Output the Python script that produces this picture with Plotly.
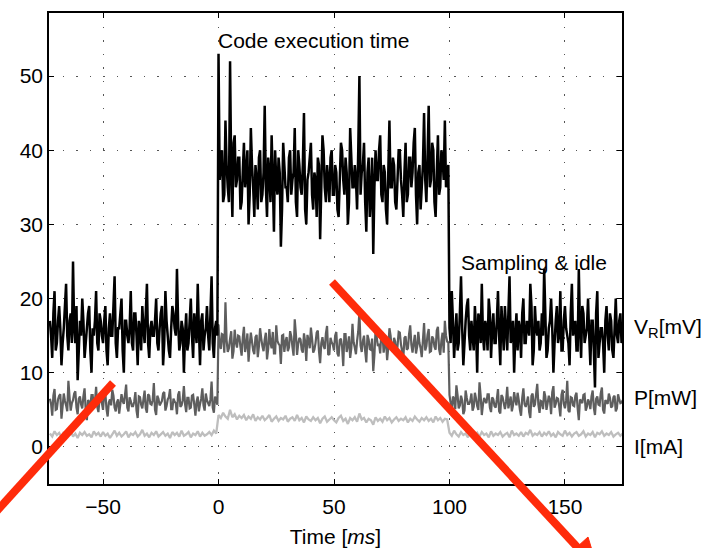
import plotly.graph_objects as go

# Sampling grids (ms)
TIME_MS = list(range(-73, 176))                    # whole-ms samples
TIME_HALF_MS = [t + 0.5 for t in range(-73, 175)]  # half-ms samples

# V_R [mV] at whole ms
V_IDLE_1 = [17, 12, 21, 14, 19, 11, 16, 22, 13, 18,
            25, 14, 9, 17, 20, 12, 16, 19, 10, 15,
            21, 13, 17, 14, 19, 11, 18, 15, 23, 12,
            16, 20, 10, 17, 14, 21, 13, 18, 11, 16,
            19, 14, 22, 12, 17, 15, 20, 13, 18, 11,
            21, 15, 12, 19, 16, 24, 13, 17, 10, 18,
            14, 20, 12, 16, 22, 11, 18, 15, 19, 13,
            23, 12, 17]
V_EXEC = [53, 38, 33, 44, 35, 52, 31, 42, 36, 39,
          33, 41, 37, 30, 43, 35, 38, 32, 40, 34,
          46, 31, 37, 42, 29, 36, 39, 27, 41, 35,
          33, 40, 36, 43, 31, 38, 34, 45, 30, 37,
          41, 32, 36, 39, 28, 42, 35, 38, 33, 40,
          34, 37, 31, 41, 36, 39, 30, 43, 35, 38,
          32, 50, 37, 41, 29, 39, 34, 26, 40, 36,
          42, 33, 37, 30, 44, 35, 38, 32, 40, 36,
          31, 41, 34, 39, 37, 43, 30, 38, 35, 45,
          33, 46, 36, 40, 31, 42, 35, 39, 44, 37]
V_IDLE_2 = [16, 21, 12, 18, 14, 23, 11, 17, 20, 13,
            15, 19, 10, 17, 22, 13, 16, 20, 12, 18,
            14, 21, 11, 16, 19, 13, 23, 15, 10, 18,
            17, 12, 20, 14, 16, 22, 11, 19, 15, 13,
            18, 24, 12, 16, 20, 10, 17, 14, 21, 13,
            19, 15, 11, 22, 16, 13, 24, 12, 18, 15,
            20, 11, 17, 8, 21, 14, 16, 10, 19, 13,
            17, 12, 20, 14, 18, 15]
# V_R [mV] at half ms
V_IDLE_1_H = [15, 18, 13, 17, 16, 14, 19, 15, 17, 14,
              16, 19, 13, 15, 17, 14, 18, 13, 16, 17,
              14, 18, 15, 17, 13, 16, 15, 19, 14, 16,
              18, 13, 17, 15, 16, 14, 18, 15, 17, 13,
              16, 18, 14, 16, 15, 17, 14, 16, 19, 14,
              17, 13, 16, 18, 15, 17, 14, 16, 15, 13,
              17, 15, 18, 14, 16, 17, 13, 16, 15, 18,
              14, 16, 15]
V_EXEC_H = [36, 40, 34, 38, 33, 37, 41, 35, 39, 32,
            37, 35, 40, 34, 38, 31, 36, 39, 33, 37,
            35, 39, 33, 36, 40, 34, 37, 32, 38, 35,
            39, 34, 37, 33, 40, 35, 38, 32, 36, 39,
            34, 37, 31, 38, 35, 40, 33, 36, 39, 34,
            38, 32, 36, 40, 34, 37, 33, 39, 35, 36,
            40, 34, 38, 33, 37, 31, 39, 35, 36, 40,
            34, 38, 32, 37, 35, 39, 33, 36, 40, 34,
            37, 33, 39, 35, 41, 34, 37, 32, 38, 36,
            39, 35, 41, 33, 37, 34, 40, 36, 35, 38]
V_IDLE_2_H = [14, 17, 15, 13, 18, 16, 14, 19, 15, 17,
              13, 16, 18, 14, 15, 17, 13, 18, 16, 14,
              17, 15, 19, 13, 16, 18, 14, 17, 15, 13,
              16, 18, 14, 17, 15, 19, 13, 16, 17, 14,
              15, 18, 13, 17, 16, 14, 19, 15, 13, 17,
              16, 14, 18, 15, 17, 13, 16, 19, 14, 16,
              15, 17, 13, 18, 12, 16, 14, 17, 15, 18,
              13, 16, 15, 17, 14]

# P [mW] at whole ms
P_IDLE_1 = [6.5, 4.2, 7.8, 5.1, 6.9, 3.8, 7.2, 5.6, 8.9, 4.9,
            6.3, 7.5, 4.4, 6.8, 5.2, 7.9, 3.6, 6.1, 7.0, 5.4,
            8.1, 4.7, 6.6, 5.0, 7.3, 4.1, 6.4, 7.7, 5.3, 6.0,
            4.5, 7.1, 5.8, 8.4, 4.8, 6.2, 5.5, 7.4, 3.9, 6.7,
            5.2, 7.6, 4.6, 6.9, 5.7, 8.6, 4.3, 6.5, 5.9, 7.2,
            4.9, 6.4, 7.8, 5.1, 6.1, 4.4, 7.5, 5.6, 8.2, 4.7,
            6.6, 5.3, 7.0, 4.2, 6.8, 5.8, 7.9, 4.9, 6.3, 5.5,
            8.8, 4.6, 6.2]
P_EXEC = [16.5, 13.2, 15.1, 19.5, 12.8, 14.6, 11.9, 15.8, 13.4, 14.9,
          12.3, 16.2, 13.7, 11.5, 15.4, 13.0, 14.8, 12.1, 16.0, 13.6,
          14.5, 11.8, 15.9, 13.3, 12.6, 16.4, 13.9, 11.2, 15.1, 14.2,
          12.9, 15.6, 13.5, 17.2, 12.4, 14.7, 13.1, 15.3, 11.6, 14.4,
          16.1, 12.7, 14.0, 15.7, 11.3, 14.8, 13.2, 16.3, 12.5, 14.1,
          13.0, 15.5, 12.2, 14.6, 10.9, 15.2, 13.7, 12.0, 16.6, 13.4,
          14.3, 18.2, 12.8, 15.0, 11.4, 14.5, 13.1, 10.2, 15.8, 13.6,
          12.6, 15.3, 13.9, 11.7, 16.0, 13.2, 14.7, 12.3, 15.5, 13.8,
          11.9, 14.9, 13.3, 16.4, 12.7, 15.1, 13.5, 14.0, 12.1, 16.7,
          13.6, 15.9, 12.9, 14.6, 13.1, 16.2, 12.4, 15.4, 17.0, 14.2]
P_IDLE_2 = [7.0, 4.6, 6.5, 8.3, 5.2, 6.9, 4.4, 7.6, 5.8, 6.2,
            4.9, 7.3, 5.5, 8.7, 4.3, 6.6, 5.9, 7.1, 4.7, 6.4,
            5.3, 7.8, 4.5, 6.7, 5.1, 8.1, 6.0, 4.8, 7.4, 5.6,
            6.3, 4.2, 7.9, 5.4, 6.8, 3.9, 7.2, 5.7, 8.5, 4.6,
            6.1, 7.5, 5.0, 6.9, 4.4, 8.2, 5.8, 6.5, 4.1, 7.7,
            5.2, 8.9, 4.7, 6.6, 5.5, 7.3, 3.6, 6.2, 7.0, 4.9,
            6.4, 5.1, 7.6, 4.3, 6.8, 5.6, 8.0, 4.5, 6.1, 7.2,
            5.3, 6.7, 4.8, 7.1, 5.9, 6.3]
# P [mW] at half ms
P_IDLE_1_H = [5.8, 6.9, 5.0, 6.4, 7.1, 5.5, 6.2, 4.8, 6.7, 5.9,
              7.2, 5.3, 6.5, 5.7, 6.8, 4.9, 6.3, 5.6, 7.0, 6.1,
              5.4, 6.6, 5.9, 7.3, 5.1, 6.0, 5.6, 6.9, 4.8, 6.4,
              5.8, 6.2, 7.0, 5.3, 6.7, 5.5, 6.1, 4.9, 6.8, 5.7,
              6.4, 5.2, 7.1, 5.8, 6.3, 5.0, 6.9, 5.6, 6.2, 7.4,
              5.5, 6.7, 5.1, 6.5, 5.9, 7.0, 5.4, 6.3, 5.8, 6.6,
              5.2, 6.9, 5.7, 6.1, 4.8, 6.5, 5.6, 7.2, 5.9, 6.4,
              5.3, 6.8, 5.7]
P_EXEC_H = [13.9, 15.2, 12.7, 14.4, 13.3, 15.6, 12.9, 14.1, 15.0, 13.5,
            14.7, 12.8, 15.3, 13.8, 14.2, 12.5, 15.1, 13.6, 14.6, 12.9,
            15.4, 13.2, 14.0, 15.5, 12.6, 14.3, 13.7, 15.0, 12.8, 14.8,
            13.4, 14.9, 12.3, 15.2, 13.9, 14.5, 12.7, 14.2, 15.1, 13.3,
            14.6, 13.1, 15.4, 12.9, 14.0, 13.6, 15.3, 12.4, 14.7, 13.8,
            15.0, 12.6, 14.4, 13.5, 15.2, 12.8, 14.9, 13.3, 14.1, 12.5,
            15.6, 13.7, 14.3, 12.9, 15.1, 13.2, 14.6, 12.4, 14.8, 13.9,
            15.3, 12.7, 14.5, 13.4, 15.0, 12.8, 14.2, 13.6, 15.4, 12.9,
            14.7, 13.1, 15.2, 13.8, 14.0, 12.6, 15.5, 13.3, 14.4, 13.0,
            15.1, 12.8, 14.9, 13.5, 15.7, 13.2, 14.3, 12.7, 15.0, 14.1]
P_IDLE_2_H = [5.9, 6.8, 5.1, 7.0, 5.6, 6.3, 4.9, 6.6, 5.8, 7.2,
              5.4, 6.5, 5.0, 6.9, 5.7, 6.2, 7.1, 5.3, 6.7, 5.5,
              6.4, 4.8, 7.0, 5.9, 6.1, 5.2, 6.8, 5.6, 6.3, 7.3,
              5.0, 6.6, 5.8, 6.0, 4.7, 6.9, 5.4, 7.1, 5.7, 6.2,
              5.1, 6.8, 5.9, 6.4, 7.4, 5.3, 6.6, 5.5, 7.0, 5.8,
              6.2, 4.9, 6.7, 5.6, 6.9, 5.2, 6.4, 5.9, 7.1, 5.4,
              6.0, 6.8, 5.3, 6.5, 5.7, 7.2, 5.0, 6.3, 5.8, 6.6,
              5.5, 6.9, 5.2, 6.4, 6.0]

# I [mA] at whole ms
I_IDLE_1 = [1.8, 1.4, 2.1, 1.6, 1.9, 1.3, 2.0, 1.5, 1.7, 2.2,
            1.4, 1.8, 1.2, 1.9, 1.6, 2.0, 1.5, 1.7, 1.3, 2.1,
            1.6, 1.9, 1.4, 2.0, 1.5, 1.8, 1.2, 1.7, 2.2, 1.5,
            1.9, 1.4, 1.7, 2.1, 1.3, 1.8, 1.6, 2.0, 1.4, 1.7,
            2.3, 1.5, 1.8, 1.3, 1.9, 1.6, 2.1, 1.4, 1.7, 2.0,
            1.5, 1.8, 1.2, 2.0, 1.6, 1.9, 1.4, 2.2, 1.5, 1.7,
            2.0, 1.3, 1.8, 1.6, 2.1, 1.4, 1.9, 1.5, 1.7, 2.0,
            1.6, 2.2, 1.8]
I_EXEC = [4.3, 3.9, 4.6, 4.1, 3.8, 5.0, 4.0, 4.4, 3.7, 4.2,
          3.9, 4.3, 3.6, 4.1, 3.8, 4.4, 3.5, 4.0, 3.7, 4.2,
          3.6, 3.9, 4.3, 3.4, 3.8, 4.1, 3.5, 3.9, 3.7, 4.2,
          3.4, 3.8, 4.0, 3.5, 4.3, 3.6, 3.9, 3.3, 4.1, 3.7,
          3.5, 4.0, 3.6, 3.9, 3.2, 3.8, 4.1, 3.4, 3.7, 4.0,
          3.6, 3.3, 3.9, 4.2, 3.5, 3.8, 3.1, 3.9, 3.6, 4.0,
          3.4, 4.5, 3.7, 3.9, 3.3, 3.8, 3.6, 3.0, 4.0, 3.5,
          3.8, 3.4, 4.1, 3.6, 3.9, 3.3, 3.7, 4.0, 3.5, 3.8,
          3.6, 4.0, 3.3, 3.8, 3.5, 4.1, 3.7, 3.4, 3.9, 3.6,
          4.0, 3.5, 3.8, 3.3, 4.1, 3.6, 3.9, 3.4, 3.8, 3.7]
I_IDLE_2 = [1.9, 1.5, 2.2, 1.7, 1.4, 2.0, 1.6, 1.8, 1.3, 2.1,
            1.7, 1.5, 1.9, 1.4, 2.0, 1.6, 1.8, 1.3, 2.1, 1.5,
            1.8, 1.6, 2.0, 1.4, 1.7, 1.9, 1.3, 2.2, 1.6, 1.8,
            1.5, 2.0, 1.4, 1.9, 1.7, 2.3, 1.5, 1.8, 1.6, 2.0,
            1.4, 1.9, 1.6, 2.1, 1.5, 1.8, 1.3, 2.0, 1.7, 1.5,
            2.2, 1.6, 1.9, 1.4, 1.8, 2.0, 1.5, 1.7, 2.1, 1.4,
            1.8, 1.6, 2.0, 1.3, 1.9, 1.7, 2.1, 1.5, 1.8, 1.6,
            2.0, 1.4, 1.7, 1.9, 1.5, 1.8]

V_R = V_IDLE_1 + V_EXEC + V_IDLE_2
V_R_H = V_IDLE_1_H + V_EXEC_H + V_IDLE_2_H
P = P_IDLE_1 + P_EXEC + P_IDLE_2
P_H = P_IDLE_1_H + P_EXEC_H + P_IDLE_2_H
I = I_IDLE_1 + I_EXEC + I_IDLE_2

SERIES_LABELS = ["V<sub>R</sub>[mV]", "P[mW]", "I[mA]"]
LABEL_Y = [16.0, 6.6, 0.0]
X_TICKS = [-50, 0, 50, 100, 150]
Y_TICKS = [0, 10, 20, 30, 40, 50]
ANNOT_TEXT = ["Code execution time", "Sampling & idle"]
ANNOT_X = [0, 105.5]
ANNOT_Y = [54.8, 24.8]

FONT = "Liberation Sans, Arial, Helvetica, sans-serif"
FS = 21
RED = "#FF2B0A"


def merge(t_main, v_main, t_half, v_half):
    ts, vs = [], []
    for i, (t, v) in enumerate(zip(t_main, v_main)):
        ts.append(t)
        vs.append(v)
        if i < len(v_half):
            ts.append(t_half[i])
            vs.append(v_half[i])
    return ts, vs


tv, vv = merge(TIME_MS, V_R, TIME_HALF_MS, V_R_H)
tp, pp = merge(TIME_MS, P, TIME_HALF_MS, P_H)

fig = go.Figure()
fig.add_trace(go.Scatter(x=TIME_MS, y=I, mode="lines",
                         line=dict(color="#BEBEBE", width=2.3, simplify=False),
                         showlegend=False))
fig.add_trace(go.Scatter(x=tp, y=pp, mode="lines",
                         line=dict(color="#5E5E5E", width=2.2, simplify=False),
                         showlegend=False))
fig.add_trace(go.Scatter(x=tv, y=vv, mode="lines",
                         line=dict(color="#000000", width=2.5, simplify=False),
                         showlegend=False))

L, R, T, B = 49, 81, 13, 64
W, H = 703, 548
PW, PH = W - L - R, H - T - B


def px2paper(px, py):
    return (px - L) / PW, (H - B - py) / PH


annotations = []
for txt, ax_, ay_ in zip(ANNOT_TEXT, ANNOT_X, ANNOT_Y):
    annotations.append(dict(x=ax_, y=ay_, xref="x", yref="y", text=txt,
                            showarrow=False, xanchor="left", yanchor="middle",
                            xshift=-3, font=dict(family=FONT, size=FS, color="black")))
for txt, ly in zip(SERIES_LABELS, LABEL_Y):
    annotations.append(dict(x=1.0, y=ly, xref="paper", yref="y", text=txt,
                            showarrow=False, xanchor="left", yanchor="middle",
                            xshift=10, font=dict(family=FONT, size=FS, color="black")))

# red arrow shafts and head (pixel geometry converted to paper fractions)
a0 = px2paper(113, 383)
a1 = px2paper(-25, 535)
b0 = px2paper(332, 282)
b1 = px2paper(578, 548)
h_tip = px2paper(598, 570)
h_c1 = px2paper(588, 537)
h_c2 = px2paper(566, 557)
shapes = [
    dict(type="line", xref="paper", yref="paper", x0=a0[0], y0=a0[1], x1=a1[0], y1=a1[1],
         line=dict(color=RED, width=8), layer="above"),
    dict(type="line", xref="paper", yref="paper", x0=b0[0], y0=b0[1], x1=b1[0], y1=b1[1],
         line=dict(color=RED, width=8), layer="above"),
    dict(type="path", xref="paper", yref="paper",
         path=f"M {h_tip[0]} {h_tip[1]} L {h_c1[0]} {h_c1[1]} L {h_c2[0]} {h_c2[1]} Z",
         fillcolor=RED, line=dict(color=RED, width=1), layer="above"),
]

axis_common = dict(showline=True, linecolor="black", linewidth=1.5, mirror="ticks",
                   ticks="inside", ticklen=5, tickcolor="black", tickwidth=1.2,
                   showgrid=True, gridcolor="#555555", gridwidth=1,
                   griddash="1.5px,12px", zeroline=False,
                   tickfont=dict(family=FONT, size=FS, color="black"))

fig.update_layout(
    width=W, height=H,
    margin=dict(l=L, r=R, t=T, b=B, autoexpand=False),
    paper_bgcolor="white", plot_bgcolor="white",
    xaxis=dict(range=[-73.4, 174.7], tickvals=X_TICKS, ticklabelstandoff=3,
               title=dict(text="Time [<i>ms</i>]", standoff=12,
                          font=dict(family=FONT, size=FS, color="black")),
               **axis_common),
    yaxis=dict(range=[-5, 58.5], tickvals=Y_TICKS, **axis_common),
    annotations=annotations, shapes=shapes,
)

fig.write_html("out.html")
